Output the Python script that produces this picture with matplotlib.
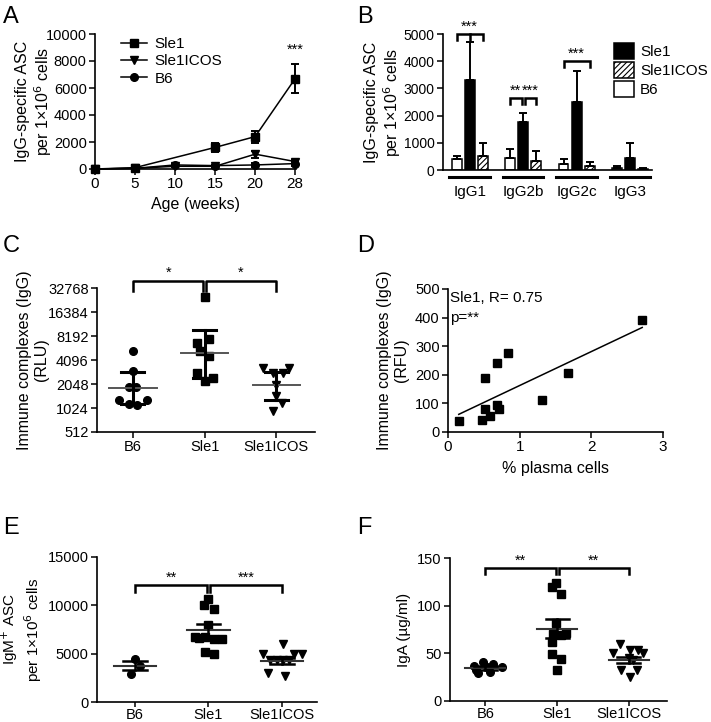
import matplotlib
matplotlib.use("Agg")
import matplotlib.pyplot as plt
import numpy as np

plt.rcParams['font.family'] = ['Liberation Sans', 'DejaVu Sans']
plt.rcParams['hatch.linewidth'] = 0.8

# ---- A: time course
ages = ['0', '5', '10', '15', '20', '28']
a_sle1 = [0, 100, np.nan, 1600, 2400, 6700]
a_sle1_err = [0, 60, np.nan, 350, 450, 1100]
a_icos = [0, 50, 200, 200, 1100, 550]
a_icos_err = [0, 30, 60, 100, 250, 150]
a_b6 = [0, 50, 300, 250, 300, 400]
a_b6_err = [0, 30, 80, 80, 120, 150]

# ---- B: isotypes
isotypes = ['IgG1', 'IgG2b', 'IgG2c', 'IgG3']
b_b6 = [400, 450, 230, 80]
b_b6_err = [130, 330, 170, 80]
b_sle1 = [3300, 1750, 2500, 450]
b_sle1_err = [1400, 350, 1150, 550]
b_icos = [500, 330, 150, 30]
b_icos_err = [480, 370, 150, 50]

groups = ['B6', 'Sle1', 'Sle1ICOS']

# ---- C: immune complexes (RLU), mean +/- SD
c_b6 = [5300, 3000, 1900, 1900, 1300, 1300, 1150, 1130]
c_sle1 = [25300, 7500, 6650, 5260, 4550, 2810, 2440, 2210]
c_icos = [3250, 3250, 2810, 2810, 2010, 1440, 1180, 930]
c_mean = [1820, 5010, 1970]
c_lo = [1150, 2440, 1300]
c_hi = [2870, 9830, 2870]

# ---- D: correlation
d_pc = [0.15, 0.51, 0.51, 0.47, 0.59, 0.68, 0.68, 0.71, 0.84, 1.31, 1.67, 2.71]
d_ic = [39, 190, 80, 43, 57, 242, 96, 80, 277, 111, 205, 392]

# ---- E: IgM ASC, mean +/- SEM
e_b6 = [4500, 3700, 2900]
e_sle1 = [10700, 10000, 9600, 8000, 6700, 6700, 6500, 6500, 6600, 5200, 5000]
e_icos = [6050, 5000, 5000, 5000, 4300, 4300, 4300, 4300, 2950, 2650]
e_mean = [3730, 7450, 4240]
e_sem = [470, 650, 300]

# ---- F: IgA, mean +/- SEM
f_b6 = [41, 39, 37, 36, 36, 33, 30, 29]
f_sle1 = [124, 120, 112, 82, 71, 70, 69, 62, 49, 44, 33]
f_icos = [60, 53, 53, 50, 50, 45, 43, 32, 32, 25]
f_mean = [35, 76, 43]
f_sem = [2, 9.5, 3]

W, H = 711, 722
fig = plt.figure(figsize=(W / 100, H / 100), dpi=100)


def axes_px(l, r, t, b):
    return fig.add_axes([l / W, 1 - b / H, (r - l) / W, (b - t) / H])


def style(ax):
    for s in ['top', 'right']:
        ax.spines[s].set_visible(False)
    for s in ['left', 'bottom']:
        ax.spines[s].set_linewidth(1.2)
    ax.tick_params(direction='out', length=4, width=1.1, labelsize=10.5, pad=2)


def ylab(ax, text, xpx, left, width, size=11.5):
    ax.set_ylabel(text, fontsize=size, linespacing=1.15)
    ax.yaxis.set_label_coords((xpx - left) / width, 0.5)


def bracket(ax, x1, x2, y, drop, text, xm=None):
    ax.plot([x1, x1, x2, x2], [y - drop, y, y, y - drop], color='k', lw=1.8,
            clip_on=False, solid_joinstyle='miter')
    if xm is not None:
        ax.plot([xm, xm], [y, y - drop], color='k', lw=1.8, clip_on=False)
    ax.text((x1 + x2) / 2, y, text, ha='center', va='bottom', fontsize=10.5)


# ---------------- A
ax = axes_px(95, 296, 34, 169)
style(ax)
xa = np.arange(len(ages))
for vals, err, mk, lab in [(a_sle1, a_sle1_err, 's', 'Sle1'),
                           (a_icos, a_icos_err, 'v', 'Sle1ICOS'),
                           (a_b6, a_b6_err, 'o', 'B6')]:
    v = np.array(vals, dtype=float)
    m = ~np.isnan(v)
    ax.errorbar(xa[m], v[m], yerr=np.array(err, dtype=float)[m], color='k', fmt='none',
                capsize=3, elinewidth=1.4, capthick=1.4, clip_on=False, zorder=3)
    ax.plot(xa[m], v[m], color='k', marker=mk, ms=5.5, lw=1.1, clip_on=False,
            zorder=3, label=lab)
ax.set_xlim(0, 5.02)
ax.set_ylim(0, 10000)
ax.set_xticks(xa, ages)
ax.set_yticks([0, 2000, 4000, 6000, 8000, 10000])
ax.tick_params(axis='x', labelsize=11)
ax.set_xlabel('Age (weeks)', fontsize=11.5, labelpad=4)
ylab(ax, 'IgG-specific ASC\nper 1\u00d710$^6$ cells', 54, 95, 201)
ax.text(5, a_sle1[5] + a_sle1_err[5] + 500, '***', ha='center', va='bottom', fontsize=10.5)
ax.legend(loc='upper left', bbox_to_anchor=(0.1, 1.02), frameon=False,
          fontsize=11, handlelength=1.7, handletextpad=0.5, labelspacing=0.2,
          borderaxespad=0)

# ---------------- B
ax = axes_px(443, 652, 34, 170)
style(ax)
ax.tick_params(axis='y', labelsize=10)
xb = np.arange(len(isotypes))
bw, off = 0.185, 0.245
ek = dict(elinewidth=1.4, capsize=3, capthick=1.4, ecolor='k')
ax.bar(xb - off, b_b6, bw, yerr=[np.zeros(4), b_b6_err], color='white', edgecolor='k',
       lw=1.1, error_kw=ek, label='B6', zorder=2)
ax.bar(xb, b_sle1, bw, yerr=[np.zeros(4), b_sle1_err], color='black', edgecolor='k',
       lw=1.1, error_kw=ek, label='Sle1', zorder=2)
ax.bar(xb + off, b_icos, bw, yerr=[np.zeros(4), b_icos_err], color='white', edgecolor='k',
       hatch='//////', lw=1.1, error_kw=ek, label='Sle1ICOS', zorder=2)
ax.set_xlim(-0.5, 3.41)
ax.set_ylim(0, 5000)
ax.set_yticks([0, 1000, 2000, 3000, 4000, 5000])
ax.set_xticks(xb, isotypes)
ax.tick_params(axis='x', length=0, pad=11, labelsize=11)
tr = ax.get_xaxis_transform()
for x in xb:
    ax.plot([x - 0.38, x + 0.38], [-0.055, -0.055], color='k', lw=2.2, transform=tr,
            clip_on=False)
ylab(ax, 'IgG-specific ASC\nper 1\u00d710$^6$ cells', 403, 443, 209)
bracket(ax, 0 - off, 0 + off, 5000, 220, '***', xm=0)
bracket(ax, 1 - off, 1 - 0.03, 2650, 220, '**')
bracket(ax, 1 + 0.03, 1 + off, 2650, 220, '***')
bracket(ax, 2 - off, 2 + off, 4000, 220, '***')
handles, labels = ax.get_legend_handles_labels()
order = [1, 2, 0]
ax.legend([handles[i] for i in order], [labels[i] for i in order], loc='upper left',
          bbox_to_anchor=(0.79, 0.98), frameon=False, fontsize=11, handlelength=1.3,
          handleheight=1.3, handletextpad=0.4, labelspacing=0.15, borderaxespad=0)

# ---------------- C
ax = axes_px(97, 315, 288, 432)
style(ax)
xc = np.arange(3)
ax.set_yscale('log', base=2)
ax.set_ylim(512, 32768)
ticks_c = [512, 1024, 2048, 4096, 8192, 16384, 32768]
ax.set_yticks(ticks_c, [str(t) for t in ticks_c])
ax.minorticks_off()
offs_c = [[0, 0, -0.05, 0.05, -0.2, 0.2, -0.06, 0.06],
          [0, 0.06, -0.11, -0.07, 0.06, -0.11, 0.12, 0],
          [-0.18, 0.18, -0.05, 0.09, 0, 0, 0.08, -0.05]]
for i, (vals, mk) in enumerate([(c_b6, 'o'), (c_sle1, 's'), (c_icos, 'v')]):
    ax.plot(i + np.array(offs_c[i]), vals, mk, color='k', ms=5.5, zorder=3, clip_on=False)
    ax.plot([i - 0.33, i + 0.33], [c_mean[i]] * 2, color='#555555', lw=1.4, zorder=4)
    ax.plot([i, i], [c_lo[i], c_hi[i]], color='k', lw=2.2, zorder=4)
    for yv in (c_lo[i], c_hi[i]):
        ax.plot([i - 0.16, i + 0.16], [yv, yv], color='k', lw=2.2, zorder=4)
ax.set_xlim(-0.5, 2.54)
ax.set_xticks(xc, groups)
ax.tick_params(axis='x', labelsize=10.5)
ylab(ax, 'Immune complexes (IgG)\n(RLU)', 49, 97, 218)
ax.plot([0, 0, 0.98, 0.98], [30000, 40000, 40000, 30000], color='k', lw=1.8, clip_on=False)
ax.plot([1.02, 1.02, 2, 2], [30000, 40000, 40000, 30000], color='k', lw=1.8, clip_on=False)
ax.text(0.5, 42000, '*', ha='center', va='bottom', fontsize=10.5)
ax.text(1.5, 42000, '*', ha='center', va='bottom', fontsize=10.5)

# ---------------- D
ax = axes_px(448, 663, 289, 432)
style(ax)
ax.plot(d_pc, d_ic, 's', color='k', ms=6, clip_on=False, zorder=3)
k, b0 = np.polyfit(d_pc, d_ic, 1)
xs = np.array([min(d_pc), max(d_pc)])
ax.plot(xs, k * xs + b0, color='k', lw=1.1)
ax.set_xlim(0, 3)
ax.set_ylim(0, 500)
ax.set_xticks([0, 1, 2, 3])
ax.set_yticks([0, 100, 200, 300, 400, 500])
ax.tick_params(axis='x', labelsize=11)
ax.set_xlabel('% plasma cells', fontsize=11.5, labelpad=5)
ylab(ax, 'Immune complexes (IgG)\n(RFU)', 409, 448, 215)
ax.text(0.03, 470, 'Sle1, R= 0.75', fontsize=11, va='center')
ax.text(0.03, 400, 'p=**', fontsize=11, va='center')

# ---------------- E
ax = axes_px(97, 317, 557, 702)
style(ax)
offs_e = [[0.0, 0.07, -0.05],
          [0, -0.06, 0.07, 0, -0.18, -0.05, 0.18, 0.08, -0.13, -0.05, 0.07],
          [0.01, -0.26, 0.17, 0.27, -0.16, -0.07, 0.01, 0.1, -0.19, 0.05]]
for i, (vals, mk) in enumerate([(e_b6, 'o'), (e_sle1, 's'), (e_icos, 'v')]):
    ax.plot(i + np.array(offs_e[i]), vals, mk, color='k', ms=5.5, zorder=3)
    ax.plot([i - 0.29, i + 0.29], [e_mean[i]] * 2, color='#333333', lw=1.5, zorder=4)
    for yv in (e_mean[i] - e_sem[i], e_mean[i] + e_sem[i]):
        ax.plot([i - 0.16, i + 0.16], [yv, yv], color='k', lw=1.8, zorder=4)
    ax.plot([i, i], [e_mean[i] - e_sem[i], e_mean[i] + e_sem[i]], color='k', lw=1.8, zorder=4)
ax.set_xlim(-0.52, 2.48)
ax.set_ylim(0, 15000)
ax.set_yticks([0, 5000, 10000, 15000])
ax.set_xticks(xc, groups)
ax.tick_params(axis='x', labelsize=10.5, pad=1, length=3.5)
ylab(ax, 'IgM$^{+}$ ASC\nper 1\u00d710$^6$ cells', 44, 97, 220, size=11)
bracket(ax, 0, 0.98, 12150, 800, '**')
bracket(ax, 1.02, 2, 12150, 800, '***')

# ---------------- F
ax = axes_px(450, 667, 558, 701)
style(ax)
offs_f = [[-0.03, 0.11, -0.16, 0.24, 0.03, -0.13, 0.07, -0.1],
          [-0.01, -0.07, 0.06, -0.01, 0.13, -0.06, 0.06, -0.07, -0.07, 0.06, 0.0],
          [-0.12, 0.02, 0.12, -0.22, 0.19, 0, 0.05, -0.11, 0.11, 0.01]]
for i, (vals, mk) in enumerate([(f_b6, 'o'), (f_sle1, 's'), (f_icos, 'v')]):
    ax.plot(i + np.array(offs_f[i]), vals, mk, color='k', ms=5.5, zorder=3)
    ax.plot([i - 0.28, i + 0.28], [f_mean[i]] * 2, color='#333333', lw=1.5, zorder=4)
    for yv in (f_mean[i] - f_sem[i], f_mean[i] + f_sem[i]):
        ax.plot([i - 0.16, i + 0.16], [yv, yv], color='k', lw=1.8, zorder=4)
    ax.plot([i, i], [f_mean[i] - f_sem[i], f_mean[i] + f_sem[i]], color='k', lw=1.8, zorder=4)
ax.set_xlim(-0.49, 2.53)
ax.set_ylim(0, 150)
ax.set_yticks([0, 50, 100, 150])
ax.set_xticks(xc, groups)
ax.tick_params(axis='x', labelsize=10.5, pad=1, length=3.5)
ylab(ax, 'IgA (\u00b5g/ml)', 411, 450, 217, size=11)
bracket(ax, 0, 0.98, 140, 7, '**')
bracket(ax, 1.02, 2, 140, 7, '**')

# panel letters
for lab, x, y in [('A', 3, 6), ('B', 357, 6), ('C', 3, 235), ('D', 357, 235),
                  ('E', 3, 517), ('F', 357, 517)]:
    fig.text(x / W, 1 - y / H, lab, fontsize=17, va='top', ha='left')

fig.savefig('out.png', dpi=100)
